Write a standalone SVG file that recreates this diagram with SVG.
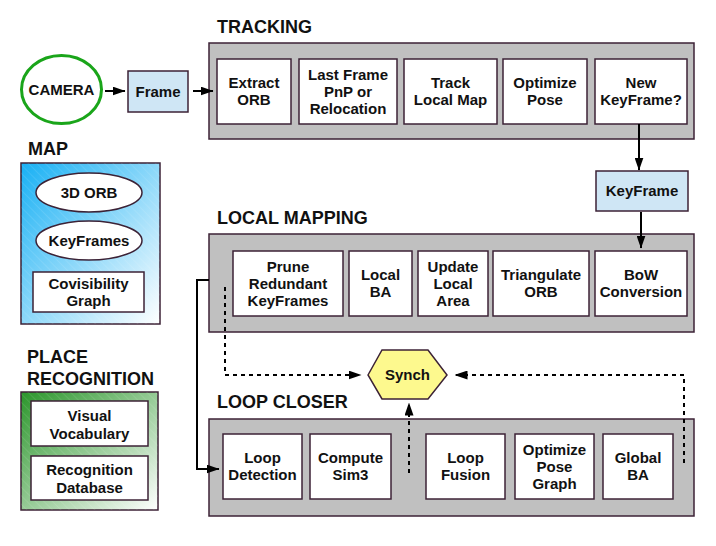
<svg xmlns="http://www.w3.org/2000/svg" width="716" height="546" viewBox="0 0 716 546">
<defs>
<style>
text{font-family:"Liberation Sans",Arial,sans-serif;font-weight:bold;fill:#111;}
.t{font-size:15px;text-anchor:middle;}
.h{font-size:18px;}
.box{fill:#fff;stroke:#3c2236;stroke-width:1.5;}
.cont{fill:#c0c0c0;stroke:#3c2236;stroke-width:1.5;}
.blue{fill:#cfe6f5;stroke:#3c2236;stroke-width:1.5;}
.ln{fill:none;stroke:#000;stroke-width:2;}
.dot{fill:none;stroke:#000;stroke-width:2;stroke-dasharray:4 4;}
</style>
<marker id="ah" markerUnits="userSpaceOnUse" markerWidth="13" markerHeight="9" refX="12.5" refY="4.5" orient="auto">
<path d="M0,0 L13,4.5 L0,9 z" fill="#000"/>
</marker>
<linearGradient id="gb" x1="0" y1="0" x2="1" y2="1">
<stop offset="0" stop-color="#18b0f4"/>
<stop offset="1" stop-color="#ffffff"/>
</linearGradient>
<linearGradient id="gg" x1="0" y1="0" x2="1" y2="1">
<stop offset="0" stop-color="#2a952a"/>
<stop offset="1" stop-color="#ffffff"/>
</linearGradient>
<pattern id="hatch" width="6" height="6" patternUnits="userSpaceOnUse" patternTransform="rotate(-45)">
<line x1="0" y1="0" x2="0" y2="6" stroke="#fff" stroke-width="1.5" stroke-opacity="0.12"/>
</pattern>
</defs>

<g id="camera">
<ellipse cx="61.5" cy="89.5" rx="40" ry="34" fill="#fff" stroke="#1aa51a" stroke-width="3"/>
<text class="t" x="61.5" y="95">CAMERA</text>
</g>
<g id="frame">
<rect class="blue" x="128" y="71" width="60" height="41"/>
<text class="t" x="158" y="97">Frame</text>
</g>

<g id="tracking">
<text class="h" x="217" y="33">TRACKING</text>
<rect class="cont" x="209" y="43" width="485" height="96"/>
</g>
<g id="extract-orb">
<rect class="box" x="217" y="59" width="74" height="65"/>
<text class="t" x="254" y="88.4">Extract</text><text class="t" x="254" y="105.4">ORB</text>
</g>
<g id="last-frame">
<rect class="box" x="299" y="59" width="98" height="65"/>
<text class="t" x="348" y="80">Last Frame</text><text class="t" x="348" y="97">PnP or</text><text class="t" x="348" y="114">Relocation</text>
</g>
<g id="track-local-map">
<rect class="box" x="404" y="59" width="93" height="65"/>
<text class="t" x="450.5" y="88.4">Track</text><text class="t" x="450.5" y="105.4">Local Map</text>
</g>
<g id="optimize-pose">
<rect class="box" x="503" y="59" width="84" height="65"/>
<text class="t" x="545" y="88.4">Optimize</text><text class="t" x="545" y="105.4">Pose</text>
</g>
<g id="new-keyframe">
<rect class="box" x="595" y="59" width="92" height="65"/>
<text class="t" x="641" y="88.4">New</text><text class="t" x="641" y="105.4">KeyFrame?</text>
</g>

<g id="keyframe">
<rect class="blue" x="596" y="171" width="92" height="40"/>
<text class="t" x="642" y="196.4">KeyFrame</text>
</g>

<g id="local-mapping">
<text class="h" x="217" y="224">LOCAL MAPPING</text>
<rect class="cont" x="209" y="234" width="485" height="98"/>
</g>
<g id="prune">
<rect class="box" x="233" y="251" width="110" height="65"/>
<text class="t" x="288" y="272">Prune</text><text class="t" x="288" y="289">Redundant</text><text class="t" x="288" y="306">KeyFrames</text>
</g>
<g id="local-ba">
<rect class="box" x="349" y="251" width="63" height="65"/>
<text class="t" x="380.5" y="280.4">Local</text><text class="t" x="380.5" y="297.4">BA</text>
</g>
<g id="update-local-area">
<rect class="box" x="418" y="251" width="70" height="65"/>
<text class="t" x="453" y="272">Update</text><text class="t" x="453" y="289">Local</text><text class="t" x="453" y="306">Area</text>
</g>
<g id="triangulate">
<rect class="box" x="493" y="251" width="96" height="65"/>
<text class="t" x="541" y="280.4">Triangulate</text><text class="t" x="541" y="297.4">ORB</text>
</g>
<g id="bow">
<rect class="box" x="595" y="251" width="92" height="65"/>
<text class="t" x="641" y="280.4">BoW</text><text class="t" x="641" y="297.4">Conversion</text>
</g>

<g id="synch">
<polygon points="368,375 382,350 428,350 447,375 428,399 382,399" fill="#fdf98e" stroke="#3c2236" stroke-width="1.5"/>
<text class="t" x="407.5" y="380.4">Synch</text>
</g>

<g id="loop-closer">
<text class="h" x="217" y="408">LOOP CLOSER</text>
<rect class="cont" x="209" y="419" width="485" height="97"/>
</g>
<g id="loop-detection">
<rect class="box" x="223" y="434" width="79" height="65"/>
<text class="t" x="262.5" y="463.4">Loop</text><text class="t" x="262.5" y="480.4">Detection</text>
</g>
<g id="compute-sim3">
<rect class="box" x="310" y="434" width="81" height="65"/>
<text class="t" x="350.5" y="463.4">Compute</text><text class="t" x="350.5" y="480.4">Sim3</text>
</g>
<g id="loop-fusion">
<rect class="box" x="426" y="434" width="79" height="65"/>
<text class="t" x="465.5" y="463.4">Loop</text><text class="t" x="465.5" y="480.4">Fusion</text>
</g>
<g id="optimize-pose-graph">
<rect class="box" x="515" y="434" width="79" height="65"/>
<text class="t" x="554.5" y="454.9">Optimize</text><text class="t" x="554.5" y="471.9">Pose</text><text class="t" x="554.5" y="488.9">Graph</text>
</g>
<g id="global-ba">
<rect class="box" x="603" y="434" width="70" height="65"/>
<text class="t" x="638" y="463.4">Global</text><text class="t" x="638" y="480.4">BA</text>
</g>

<g id="map">
<text class="h" x="28" y="155">MAP</text>
<rect x="21" y="163" width="139" height="161" fill="url(#gb)" stroke="#3c2236" stroke-width="1.5"/>
<rect x="21" y="163" width="139" height="161" fill="url(#hatch)"/>
</g>
<g id="map-3d-orb">
<ellipse cx="89" cy="192.5" rx="53" ry="19.5" fill="#fff" stroke="#3c2236" stroke-width="1.5"/>
<text class="t" x="89" y="198">3D ORB</text>
</g>
<g id="map-keyframes">
<ellipse cx="89" cy="240.5" rx="53" ry="19.5" fill="#fff" stroke="#3c2236" stroke-width="1.5"/>
<text class="t" x="89" y="246">KeyFrames</text>
</g>
<g id="covisibility-graph">
<rect class="box" x="33" y="272" width="111" height="40"/>
<text class="t" x="88.5" y="288.5">Covisibility</text><text class="t" x="88.5" y="305.5">Graph</text>
</g>

<g id="place-recognition">
<text class="h" x="27" y="363">PLACE</text>
<text class="h" x="27" y="385">RECOGNITION</text>
<rect x="21" y="392" width="137" height="118" fill="url(#gg)" stroke="#3c2236" stroke-width="1.5"/>
<rect x="21" y="392" width="137" height="118" fill="url(#hatch)"/>
</g>
<g id="visual-vocabulary">
<rect class="box" x="31" y="401" width="117" height="45"/>
<text class="t" x="89.5" y="420.5">Visual</text><text class="t" x="89.5" y="438.5">Vocabulary</text>
</g>
<g id="recognition-database">
<rect class="box" x="31" y="456" width="117" height="44"/>
<text class="t" x="89.5" y="474.5">Recognition</text><text class="t" x="89.5" y="492.5">Database</text>
</g>

<g id="connectors">
<line class="ln" x1="105" y1="91" x2="125" y2="91" marker-end="url(#ah)"/>
<line class="ln" x1="193" y1="91" x2="213" y2="91" marker-end="url(#ah)"/>
<line class="ln" x1="639" y1="124" x2="639" y2="170" marker-end="url(#ah)"/>
<line class="ln" x1="641" y1="212" x2="641" y2="248" marker-end="url(#ah)"/>
<polyline class="ln" points="209,280 197,280 197,469 219,469" marker-end="url(#ah)"/>
<polyline class="dot" points="225,287 225,375 361,375" marker-end="url(#ah)"/>
<polyline class="dot" points="684,463 684,375 455,375" marker-end="url(#ah)"/>
<line class="dot" x1="409" y1="473" x2="409" y2="403" marker-end="url(#ah)"/>
</g>
</svg>
